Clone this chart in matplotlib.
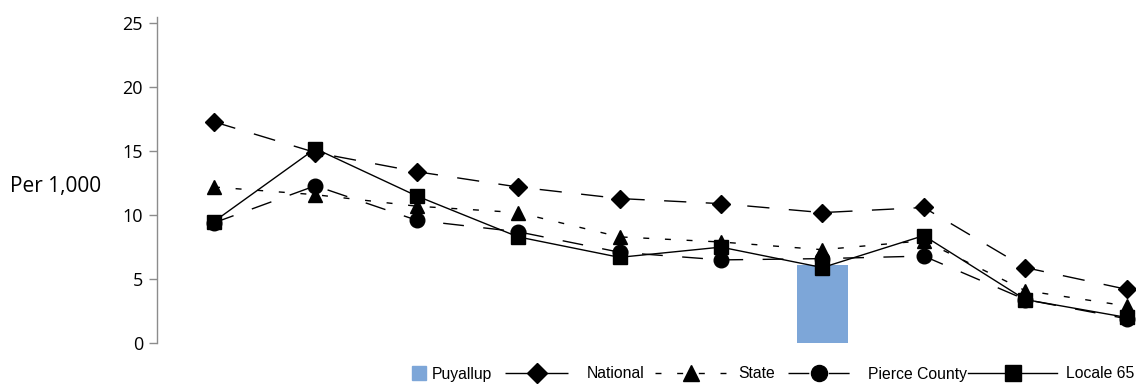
import matplotlib
matplotlib.use("Agg")
import matplotlib.pyplot as plt
from matplotlib.lines import Line2D
import numpy as np

categories = ["C1", "C2", "C3", "C4", "C5", "C6", "C7", "C8", "C9", "C10"]
puyallup = [None, None, None, None, None, None, 6.1, None, None, None]
national = [17.3, 14.9, 13.4, 12.2, 11.3, 10.9, 10.2, 10.6, 5.9, 4.2]
state = [12.2, 11.6, 10.7, 10.2, 8.3, 7.9, 7.3, 8.0, 4.1, 2.9]
pierce = [9.4, 12.3, 9.6, 8.7, 7.1, 6.5, 6.6, 6.8, 3.4, 1.9]
locale65 = [9.5, 15.2, 11.5, 8.3, 6.7, 7.5, 5.9, 8.4, 3.4, 2.0]
y_ticks = [0, 5, 10, 15, 20, 25]
series_labels = ["Puyallup", "National", "State", "Pierce County", "Locale 65"]

W, H = 1136, 386
BAR_COLOR = "#7DA6D8"
fig = plt.figure(figsize=(W / 100, H / 100), dpi=100)
ax = fig.add_axes([157 / W, (H - 343) / H, (W - 157) / W, (343 - 17) / H])

x = np.arange(len(categories))
bar_vals = [v if v is not None else 0 for v in puyallup]
ax.bar(x, bar_vals, width=0.5, color=BAR_COLOR, zorder=1)

common = dict(color="black", linewidth=1.0, markeredgecolor="black", markerfacecolor="black", zorder=3)
l1, = ax.plot(x, national, marker="D", markersize=9, dashes=(16, 14), **common)
l2, = ax.plot(x, state, marker="^", markersize=10, dashes=(4.3, 11.3), **common)
l3, = ax.plot(x, pierce, marker="o", markersize=10.5, dashes=(15, 14), **common)
l4, = ax.plot(x, locale65, marker="s", markersize=10, linestyle="-", **common)

ax.set_xlim(-0.562, 9.093)
ax.set_ylim(0, 25.5)
ax.set_yticks(y_ticks)
ax.set_xticks([])
for s in ["top", "right", "bottom"]:
    ax.spines[s].set_visible(False)
ax.spines["left"].set_color("#8c8c8c")
ax.spines["left"].set_linewidth(1.0)
ax.tick_params(axis="y", length=6, width=1.0, color="#8c8c8c", pad=4, labelsize=13)
for lab in ax.get_yticklabels():
    lab.set_fontfamily("Open Sans")

fig.text(10 / W, 1 - 187 / H, "Per 1,000", ha="left", va="center", fontsize=15, family="Open Sans")

# Legend: one entry each so the handle lengths can differ as in the reference
puy_handle = Line2D([], [], marker="s", linestyle="None", markersize=9.4,
                    color=BAR_COLOR, markeredgecolor=BAR_COLOR)
em = 11.3 * 100 / 72.0
entries = [
    (puy_handle, series_labels[0], 412, 13, 7),
    (l1, series_labels[1], 505, 63, 19),
    (l2, series_labels[2], 655, 72, 11),
    (l3, series_labels[3], 788, 62, 18),
    (l4, series_labels[4], 968, 89, 9),
]
for handle, label, x0, hw, gap in entries:
    fig.legend(handles=[handle], labels=[label], loc="center left",
               bbox_to_anchor=(x0 / W, 1 - 374 / H), bbox_transform=fig.transFigure,
               frameon=False, borderpad=0, borderaxespad=0,
               handlelength=hw / em, handletextpad=gap / em, markerscale=1.1,
               prop={"family": "Liberation Sans", "size": 11.3})

fig.savefig("out.png", dpi=100)
